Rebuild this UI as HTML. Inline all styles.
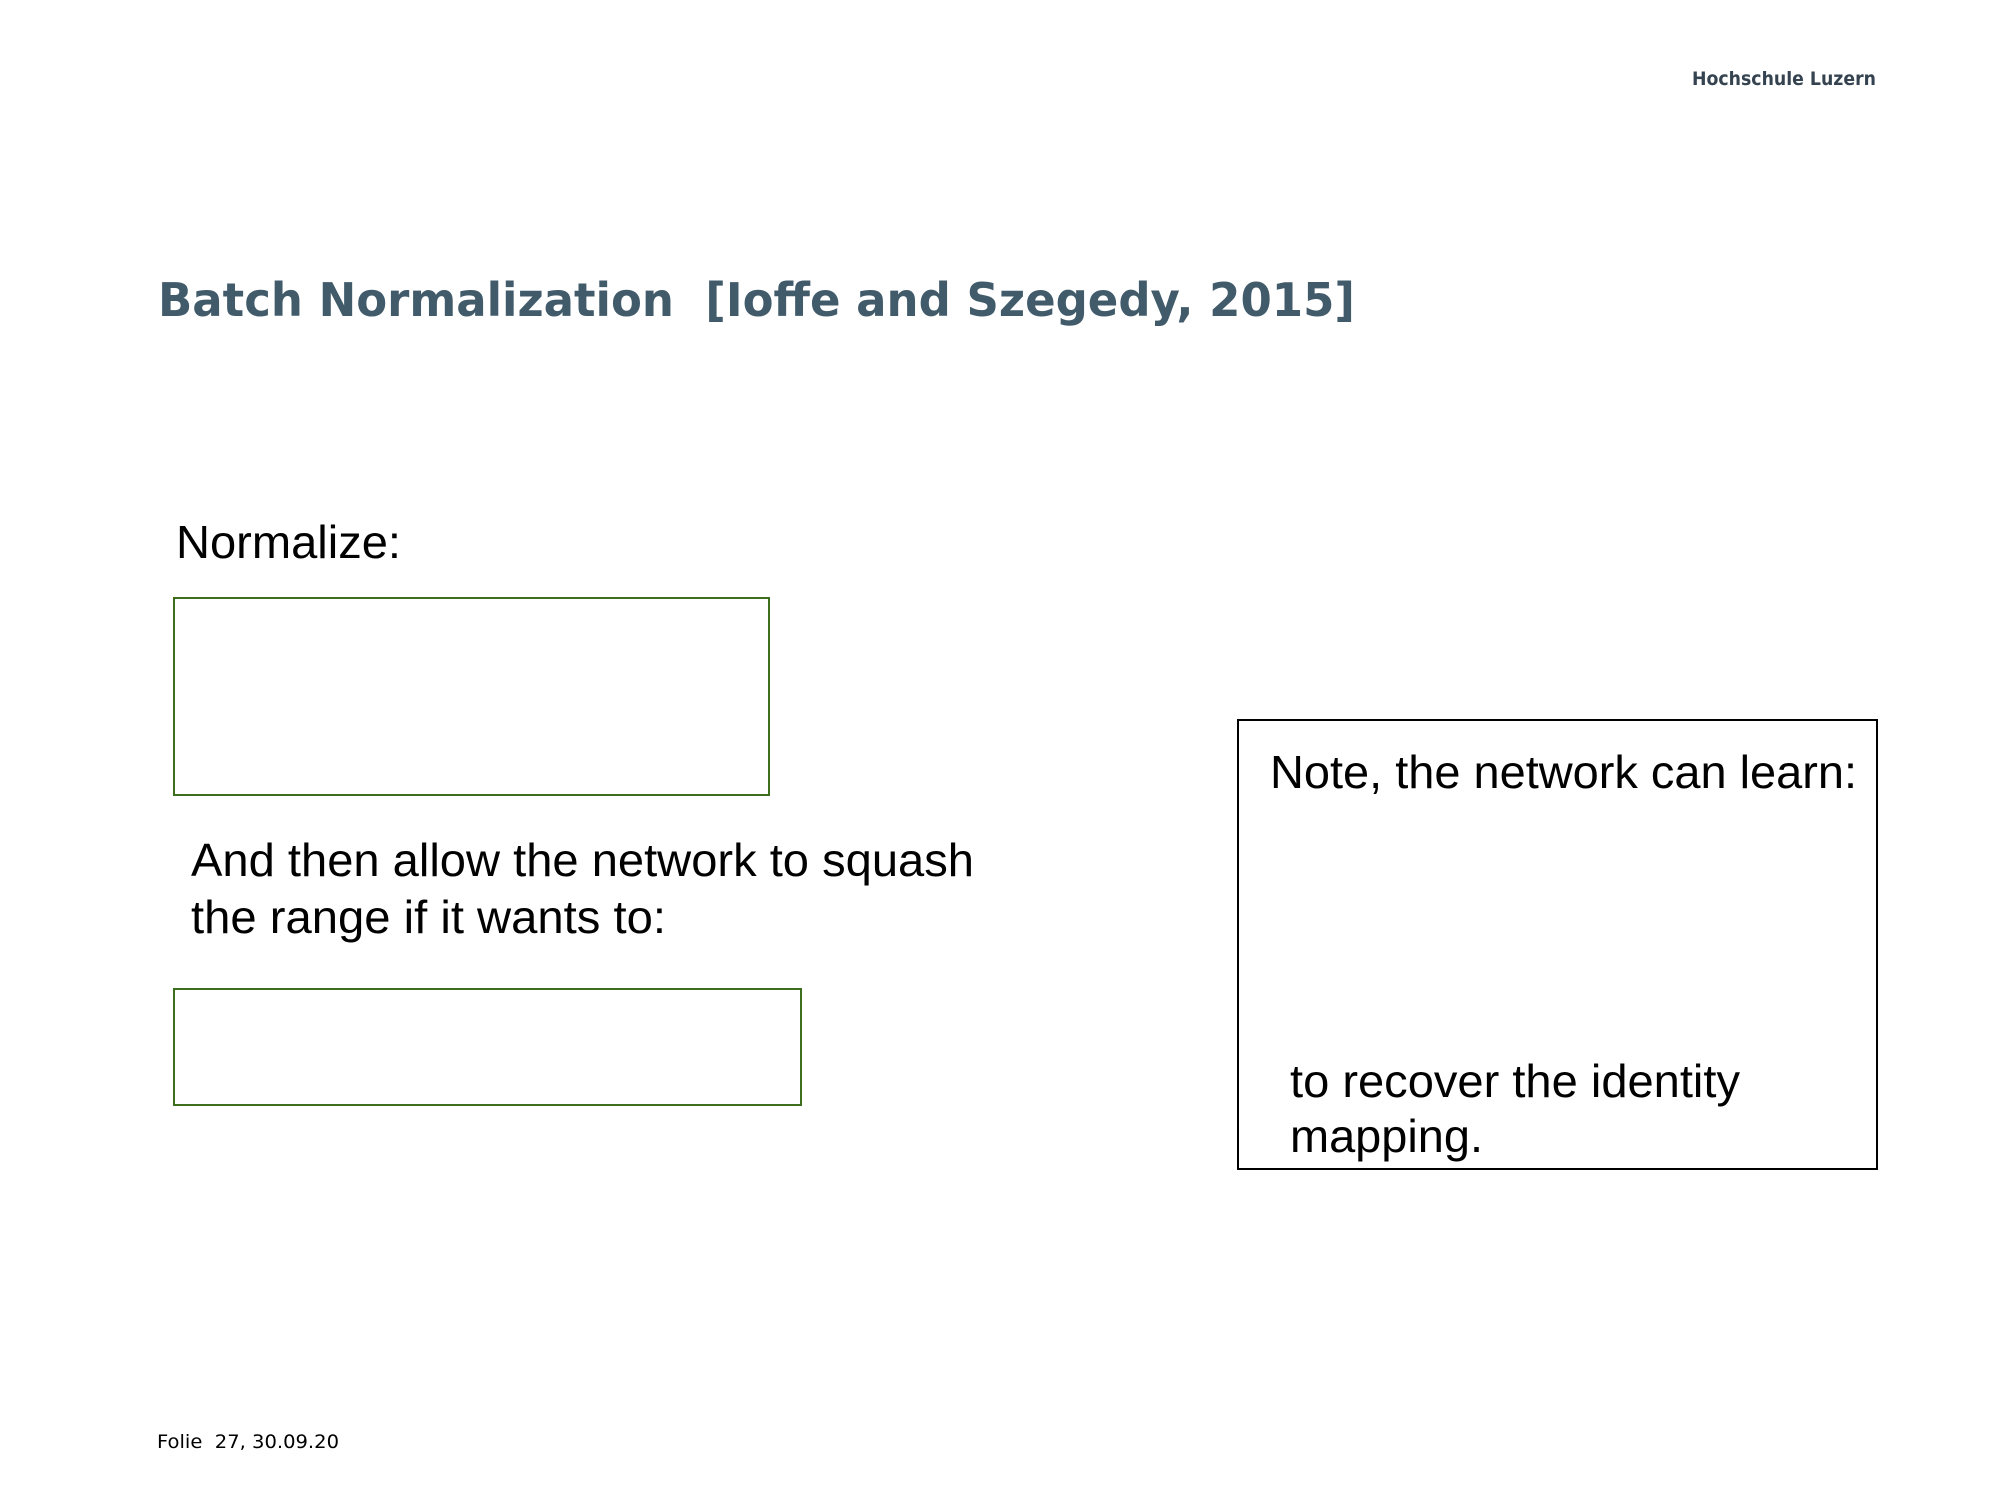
<!DOCTYPE html>
<html><head><meta charset="utf-8"><style>
html,body{margin:0;padding:0;background:#fff;}
svg{display:block;}
</style></head><body>
<svg width="2000" height="1500" viewBox="0 0 2000 1500" xmlns="http://www.w3.org/2000/svg">
<rect width="2000" height="1500" fill="#fff"/>
<text x="1692" y="85" font-family="DejaVu Sans, sans-serif" font-weight="bold" font-size="19" fill="#34434f" textLength="184" lengthAdjust="spacingAndGlyphs">Hochschule Luzern</text>
<text x="158" y="316" font-family="DejaVu Sans, sans-serif" font-weight="bold" font-size="46" fill="#415b6b" textLength="1197" lengthAdjust="spacingAndGlyphs" xml:space="preserve">Batch Normalization  [Ioffe and Szegedy, 2015]</text>
<text x="176" y="558" font-family="Liberation Sans, sans-serif" font-size="46" fill="#000" textLength="225" lengthAdjust="spacingAndGlyphs">Normalize:</text>
<rect x="174" y="598" width="595" height="197" fill="none" stroke="#3c6e1e" stroke-width="2"/>
<text x="191" y="876" font-family="Liberation Sans, sans-serif" font-size="46" fill="#000" textLength="783" lengthAdjust="spacingAndGlyphs">And then allow the network to squash</text>
<text x="191" y="933" font-family="Liberation Sans, sans-serif" font-size="46" fill="#000" textLength="475" lengthAdjust="spacingAndGlyphs">the range if it wants to:</text>
<rect x="174" y="989" width="627" height="116" fill="none" stroke="#3c6e1e" stroke-width="2"/>
<rect x="1238" y="720" width="639" height="449" fill="none" stroke="#000" stroke-width="2"/>
<text x="1270" y="788" font-family="Liberation Sans, sans-serif" font-size="46" fill="#000" textLength="587" lengthAdjust="spacingAndGlyphs">Note, the network can learn:</text>
<text x="1290" y="1097" font-family="Liberation Sans, sans-serif" font-size="46" fill="#000" textLength="450" lengthAdjust="spacingAndGlyphs">to recover the identity</text>
<text x="1290" y="1152" font-family="Liberation Sans, sans-serif" font-size="46" fill="#000" textLength="193" lengthAdjust="spacingAndGlyphs">mapping.</text>
<text x="157" y="1448" font-family="DejaVu Sans, sans-serif" font-size="19" fill="#000" textLength="182" lengthAdjust="spacingAndGlyphs" xml:space="preserve">Folie  27, 30.09.20</text>
</svg>
</body></html>
